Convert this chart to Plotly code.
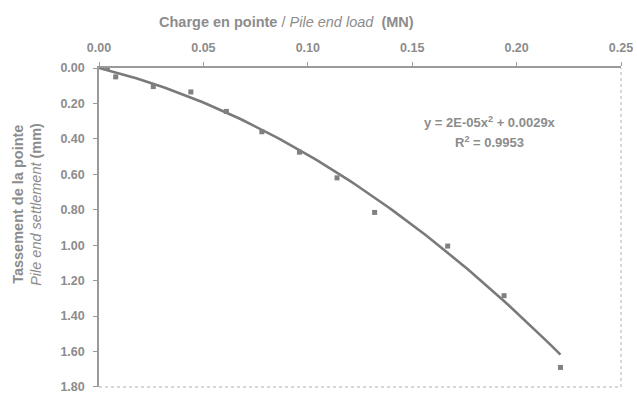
import numpy as np
import plotly.graph_objects as go

# Measured points: pile end load (MN) vs pile end settlement (mm)
load_mn = [0.004, 0.008, 0.026, 0.044, 0.061, 0.078, 0.096, 0.114, 0.132, 0.167, 0.194, 0.221]
settlement_mm = [0.00, 0.05, 0.105, 0.135, 0.245, 0.36, 0.475, 0.62, 0.815, 1.005, 1.285, 1.69]

# Trend line coefficients as printed (x in kN)
coef_a = 2e-05
coef_b = 0.0029
trend_x_end = 0.221

x_ticks = [0.00, 0.05, 0.10, 0.15, 0.20, 0.25]
y_ticks = [0.00, 0.20, 0.40, 0.60, 0.80, 1.00, 1.20, 1.40, 1.60, 1.80]

GREY = "#8c8c8c"
FONT = "Liberation Sans, Arial, sans-serif"

tx = np.linspace(0, trend_x_end, 100)
ty = coef_a * (tx * 1000) ** 2 + coef_b * (tx * 1000)

fig = go.Figure()
fig.add_trace(go.Scatter(x=tx, y=ty, mode="lines",
                         line=dict(color="#7a7a7a", width=2.6),
                         hoverinfo="skip", showlegend=False))
fig.add_trace(go.Scatter(x=load_mn, y=settlement_mm, mode="markers",
                         marker=dict(symbol="square", size=5, color="#808080"),
                         showlegend=False))

tickfont = dict(family=FONT, size=12.5, color=GREY, weight="bold")

fig.update_layout(
    width=637, height=393,
    margin=dict(l=99, r=16, t=68, b=6),
    paper_bgcolor="white", plot_bgcolor="white",
    font=dict(family=FONT, color=GREY),
    xaxis=dict(side="top", range=[0, 0.25], tickvals=x_ticks,
               ticktext=[f"{v:.2f}" for v in x_ticks],
               showgrid=False, zeroline=False, showline=True,
               linecolor="#9a9a9a", linewidth=1.5, automargin=False,
               ticks="outside", ticklen=4, tickcolor="#9a9a9a",
               ticklabelstandoff=5, ticklabeloverflow="allow", tickfont=tickfont),
    yaxis=dict(range=[1.8005, 0], tickvals=y_ticks,
               ticktext=[f"{v:.2f}" for v in y_ticks],
               showgrid=False, zeroline=False, showline=True,
               linecolor="#9a9a9a", linewidth=1.5, automargin=False,
               ticks="outside", ticklen=4, tickcolor="#9a9a9a",
               ticklabelstandoff=6, ticklabeloverflow="allow", tickfont=tickfont),
    shapes=[
        dict(type="line", xref="paper", yref="paper", x0=0, x1=1, y0=0, y1=0,
             line=dict(color="#b0b0b0", width=1, dash="dot")),
        dict(type="line", xref="paper", yref="paper", x0=1, x1=1, y0=0, y1=1,
             line=dict(color="#b0b0b0", width=1, dash="dot")),
    ],
    annotations=[
        dict(text="<b>Charge en pointe</b> / <i>Pile end load</i>  <b>(MN)</b>",
             xref="paper", yref="paper", x=0.36, y=1, yshift=46,
             xanchor="center", yanchor="middle",
             showarrow=False, font=dict(size=14.5, color=GREY)),
        dict(text="<b>Tassement de la pointe</b>", xref="paper", yref="paper",
             x=0, xshift=-81, y=0.571, xanchor="center", yanchor="middle",
             textangle=-90, showarrow=False,
             font=dict(size=14.5, color=GREY)),
        dict(text="<i>Pile end settlement</i> <b>(mm)</b>", xref="paper", yref="paper",
             x=0, xshift=-63, y=0.571, xanchor="center", yanchor="middle",
             textangle=-90, showarrow=False,
             font=dict(size=14.5, color=GREY)),
        dict(text="<b>y = 2E-05x<sup>2</sup> + 0.0029x</b>", xref="paper", yref="paper",
             x=0.749, y=0.831, xanchor="center", yanchor="middle", showarrow=False,
             font=dict(size=13, color=GREY)),
        dict(text="<b>R<sup>2</sup> = 0.9953</b>", xref="paper", yref="paper",
             x=0.749, y=0.768, xanchor="center", yanchor="middle", showarrow=False,
             font=dict(size=13, color=GREY)),
    ],
)

fig.write_html("out.html")
